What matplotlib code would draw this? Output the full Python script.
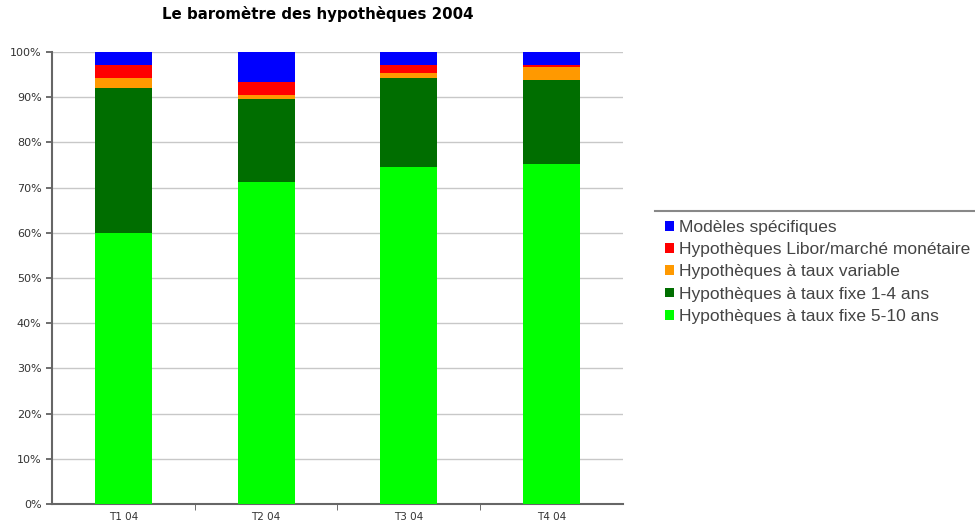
import matplotlib.pyplot as plt
from matplotlib.lines import Line2D
import numpy as np

# quarters
quarters = ['T1 04', 'T2 04', 'T3 04', 'T4 04']

# shares in % (bottom to top)
fixe_5_10 = [60.0, 71.2, 74.5, 75.2]
fixe_1_4 = [32.0, 18.3, 19.8, 18.6]
variable = [2.3, 1.1, 1.1, 2.8]
libor = [2.8, 2.7, 1.7, 0.5]
specifiques = [2.9, 6.7, 2.9, 2.9]

series = [
    ('Hypothèques à taux fixe 5-10 ans', fixe_5_10, '#00ff00'),
    ('Hypothèques à taux fixe 1-4 ans', fixe_1_4, '#006e00'),
    ('Hypothèques à taux variable', variable, '#ff9900'),
    ('Hypothèques Libor/marché monétaire', libor, '#ff0000'),
    ('Modèles spécifiques', specifiques, '#0000ff'),
]

fig = plt.figure(figsize=(9.75, 5.31), dpi=100)
ax = fig.add_axes([0.0533, 0.0508, 0.5857, 0.8512])

x = np.arange(len(quarters))
bottom = np.zeros(len(quarters))
handles = []
for name, vals, col in series:
    b = ax.bar(x, vals, width=0.4, bottom=bottom, color=col, label=name, zorder=3)
    handles.append(b)
    bottom += np.array(vals)

ax.set_xlim(-0.5, 3.5)
ax.set_ylim(0, 100)
ax.set_yticks(range(0, 101, 10))
ax.set_yticklabels([f'{v}%' for v in range(0, 101, 10)], fontsize=8, color='#333333')
ax.yaxis.grid(True, color='#c8c8c8', linewidth=1, zorder=0)

ax.set_xticks(x)
ax.set_xticklabels(quarters, fontsize=7.5, color='#333333')
ax.tick_params(axis='x', length=0, pad=6)
ax.set_xticks([0.5, 1.5, 2.5], minor=True)
ax.tick_params(axis='x', which='minor', length=4, color='#555555')
ax.tick_params(axis='y', length=4, color='#555555', width=1.2)

for s in ['top', 'right']:
    ax.spines[s].set_visible(False)
ax.spines['left'].set_color('#666666')
ax.spines['left'].set_linewidth(1.5)
ax.spines['bottom'].set_color('#666666')
ax.spines['bottom'].set_linewidth(1.5)

fig.text(0.326, 0.973, 'Le baromètre des hypothèques 2004', ha='center', va='center',
         fontsize=10.8, fontweight='bold')

leg = fig.legend(handles[::-1], [s[0] for s in series][::-1],
                 loc='upper left', bbox_to_anchor=(0.682, 0.586),
                 prop={'family': 'Liberation Sans', 'size': 12.5},
                 frameon=False, handlelength=0.5, handleheight=0.5,
                 handletextpad=0.3, labelspacing=0.42,
                 borderpad=0, borderaxespad=0)
for t in leg.get_texts():
    t.set_color('#444444')

# top border of the legend box
fig.add_artist(Line2D([0.672, 1.0], [0.6026, 0.6026], transform=fig.transFigure,
                      color='#888888', linewidth=1.5))

fig.savefig('out.png', dpi=100)
